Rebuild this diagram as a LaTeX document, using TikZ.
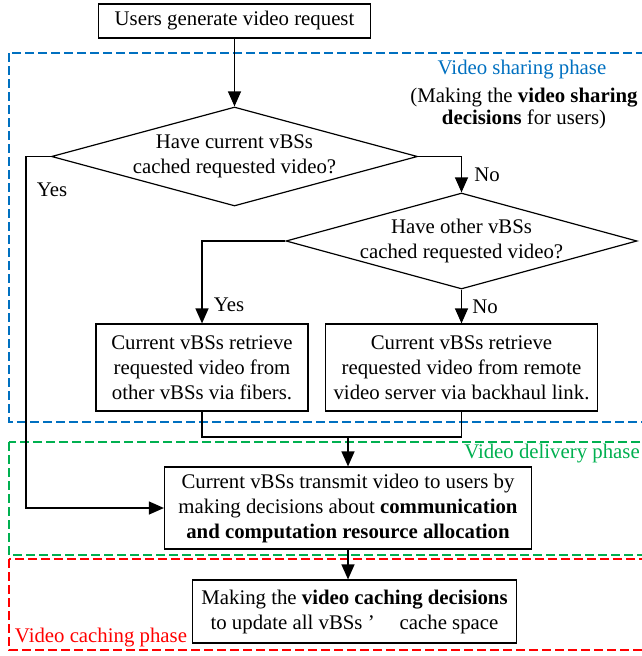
\documentclass[tikz,border=0pt]{standalone}
\usepackage{fontspec}
\setmainfont{Liberation Serif}
\usetikzlibrary{arrows.meta,shapes.geometric}
\definecolor{phblue}{RGB}{0,112,192}
\definecolor{phgreen}{RGB}{0,176,80}
\definecolor{phred}{RGB}{255,0,0}
\begin{document}
\begin{tikzpicture}[x=1pt,y=-1pt,
  font=\fontsize{20.8}{25}\selectfont,
  box/.style={draw, line width=1.2pt, align=center, inner sep=0pt},
  dec/.style={diamond, draw, line width=1.2pt, inner sep=0pt},
  txt/.style={align=center, inner sep=0pt},
  conn/.style={line width=1.2pt},
  arr/.style={conn, -{Triangle[length=15pt,width=13pt]}},
  phase/.style={dash pattern=on 9pt off 4pt, line width=1.2pt}]
\useasboundingbox (0,0) rectangle (642,656);
% phase frames
\draw[phase, phblue] (9,53) rectangle (660,422);
\draw[phase, phgreen] (9,442) rectangle (660,555);
\draw[phase, phred] (9,559) rectangle (660,650);
% nodes
\node[box, minimum width=272pt, minimum height=34pt] (req) at (234.5,21) {Users generate video request};
\node[dec, minimum width=366pt, minimum height=99pt] (d1) at (234.5,156.5) {};
\node[txt] (t1) at (d1) {Have current vBSs\\cached requested video?};
\node[dec, minimum width=351pt, minimum height=96pt] (d2) at (461.5,241) {};
\node[txt] (t2) at (d2) {Have other vBSs\\cached requested video?};
\node[box, minimum width=212pt, minimum height=87pt] (bl) at (202,367.5) {Current vBSs retrieve\\requested video from\\other vBSs via fibers.};
\node[box, minimum width=272pt, minimum height=87pt] (br) at (461.5,367.5) {Current vBSs retrieve\\requested video from remote\\video server via backhaul link.};
\node[box, minimum width=367pt, minimum height=82pt] (del) at (348,508) {Current vBSs transmit video to users by\\making decisions about \textbf{communication}\\\textbf{and computation resource allocation}};
\node[box, minimum width=324pt, minimum height=63pt] (cache) at (354.5,611.5) {Making the \textbf{video caching decisions}\\to update all vBSs\hspace{0.25em}’\hspace{1.2em}cache space};
% labels
\node[txt, text=phblue] (lb1) at (522,70) {Video sharing phase};
\node[txt, font=\fontsize{20.8}{22}\selectfont] (lb2) at (524,108) {(Making the \textbf{video sharing}\\\textbf{decisions} for users)};
\node[txt, text=phgreen] (lg) at (552,454) {Video delivery phase};
\node[txt, text=phred] (lr) at (101,638) {Video caching phase};
\node[txt] (yes1) at (52,190) {Yes};
\node[txt] (no1) at (487,175) {No};
\node[txt] (yes2) at (229,305) {Yes};
\node[txt] (no2) at (485,307) {No};
% connectors
\coordinate (yl) at (26,156.5);
\coordinate (m) at (348,437);
\draw[arr] (req) -- (d1.north);
\draw[arr] (d1.east) -| (d2.north);
\draw[arr] (d2.west) -| (bl.north);
\draw[arr] (d2.south) -- (br.north);
\draw[conn] (bl.south) -- (bl.south |- m) -- (br.south |- m) -- (br.south);
\draw[arr] (m) -- (del.north);
\draw[arr] (d1.west) -- (yl) |- (del.west);
\draw[arr] (del.south) -- (del.south |- cache.north);
\end{tikzpicture}
\end{document}
